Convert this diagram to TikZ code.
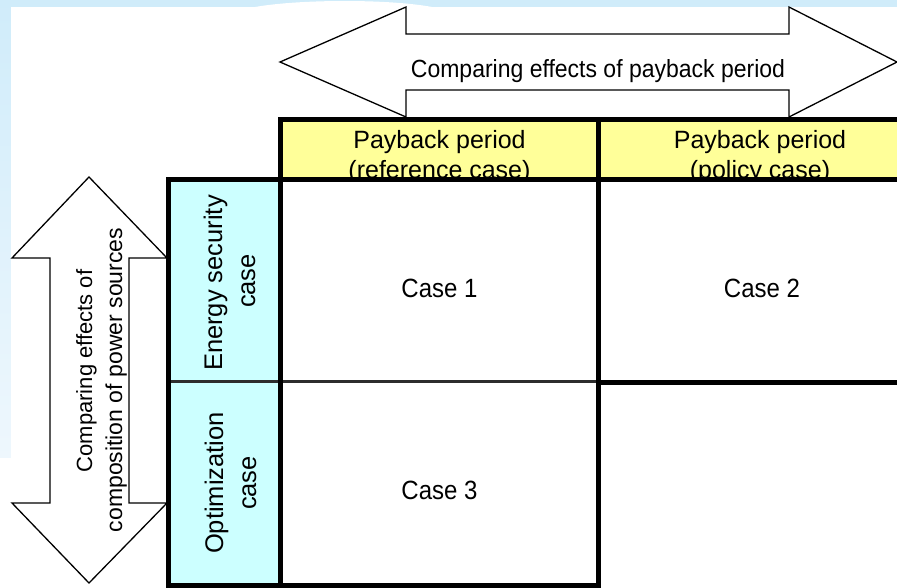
\documentclass[tikz,border=0pt]{standalone}
\usepackage{fontspec}
\setmainfont{Liberation Sans}
\definecolor{bgblue}{RGB}{208,236,250}
\definecolor{bgpale}{RGB}{238,247,253}
\definecolor{hdryellow}{RGB}{255,255,153}
\definecolor{cellcyan}{RGB}{204,255,255}
\definecolor{thingray}{RGB}{45,45,45}
\begin{document}
\begin{tikzpicture}[x=1pt,y=-1pt,
  arrowshape/.style={draw=black, line width=1.3pt, fill=white, line join=miter},
  gridline/.style={draw=black, line width=5pt, line cap=rect},
  lbl/.style={font=\fontsize{23}{30}\selectfont, inner sep=0pt, anchor=base},
  biglbl/.style={lbl, font=\fontsize{24}{30}\selectfont, yscale=1.1},
  hdrlbl/.style={lbl, font=\fontsize{25}{30}\selectfont},
  vlbl/.style={lbl, rotate=90},
  rowlbl/.style={lbl, font=\fontsize{25.5}{30}\selectfont, rotate=90}]
\useasboundingbox (0,0) rectangle (897,587);
% background
\fill[bgblue] (0,0) rectangle (897,587);
\shade[top color=bgblue, bottom color=bgpale] (0,0) rectangle (11,458);
\fill[white] (11,7) rectangle (897,587);
\fill[white] (0,458) rectangle (11,587);
\fill[white] (255,7) .. controls (300,-1) and (390,-1) .. (432,7) -- cycle;
% top double arrow
\draw[arrowshape] (280,62) -- (406,7) -- (406,34) -- (789,34) -- (789,7) -- (897,62)
  -- (789,117) -- (789,90) -- (406,90) -- (406,117) -- cycle;
\node[lbl, yscale=1.08] (toptext) at (598,77) {Comparing effects of payback period};
% left double arrow
\draw[arrowshape] (89,177) -- (167,258) -- (129,258) -- (129,503) -- (167,503) -- (89,583)
  -- (12,503) -- (50,503) -- (50,258) -- (12,258) -- cycle;
\node[vlbl, font=\fontsize{22}{30}\selectfont] (lefttext1) at (92,371) {Comparing effects of};
\node[vlbl] (lefttext2) at (122,380) {composition of power sources};
% header row
\fill[hdryellow] (280.5,119.5) rectangle (925,179);
\node[hdrlbl] (hA1) at (439.5,148) {Payback period};
\node[hdrlbl] (hA2) at (439.5,178) {(reference case)};
\node[hdrlbl] (hB1) at (760,148) {Payback period};
\node[hdrlbl] (hB2) at (760,178) {(policy case)};
\draw[gridline] (280.5,179) -- (280.5,119.5) -- (925,119.5);
\draw[gridline] (598.5,119.5) -- (598.5,179);
% body
\fill[white] (280.5,179) rectangle (925,590);
\fill[cellcyan] (168.5,179) rectangle (280.5,585);
\draw[thingray, line width=3pt] (168.5,381) -- (598.5,381);
\draw[gridline] (598.5,382.5) -- (925,382.5);
\draw[gridline] (168.5,179) -- (925,179);
\draw[gridline] (168.5,179) -- (168.5,585) -- (598.5,585);
\draw[gridline] (280.5,179) -- (280.5,585);
\draw[gridline] (598.5,179) -- (598.5,590);
% row labels
\node[rowlbl] (r1a) at (222,283) {Energy security};
\node[rowlbl] (r1b) at (255,281) {case};
\node[rowlbl] (r2a) at (223,483) {Optimization};
\node[rowlbl] (r2b) at (256,483) {case};
% cases
\node[biglbl] (c1) at (439.5,297) {Case 1};
\node[biglbl] (c2) at (762,297) {Case 2};
\node[biglbl] (c3) at (439.5,499.5) {Case 3};
\end{tikzpicture}
\end{document}
